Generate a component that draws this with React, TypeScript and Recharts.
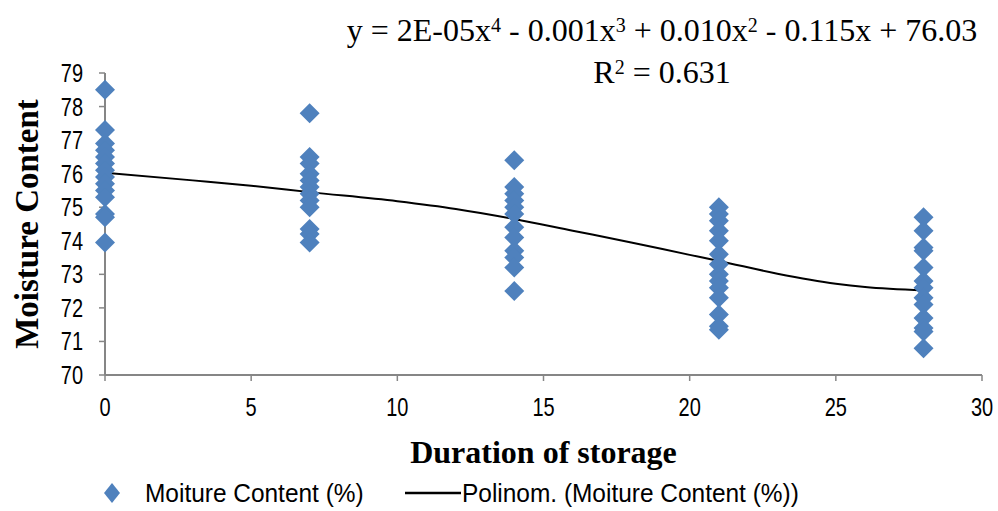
import React from "react";
import { ComposedChart, Scatter, Line, XAxis, YAxis } from "recharts";

const days = [0, 7, 14, 21, 28];
const day0 = [78.5, 77.3, 76.9, 76.7, 76.5, 76.3, 76.1, 75.9, 75.7, 75.5, 75.3, 74.8, 74.7, 73.95];
const day7 = [77.8, 76.5, 76.3, 76.0, 75.8, 75.6, 75.4, 75.2, 75.0, 74.35, 74.2, 73.95];
const day14 = [76.4, 75.6, 75.4, 75.2, 75.0, 74.8, 74.4, 74.1, 73.7, 73.5, 73.2, 72.5];
const day21 = [75.0, 74.8, 74.6, 74.3, 74.0, 73.6, 73.3, 73.0, 72.8, 72.6, 72.3, 71.8, 71.45, 71.35];
const day28 = [74.7, 74.3, 73.8, 73.7, 73.2, 72.8, 72.6, 72.3, 72.1, 71.7, 71.4, 71.3, 70.8];

const trendX = [0, 3, 5, 7, 10, 12, 14, 16, 18, 20, 21, 23, 25, 26, 28];
const trendY = [76.03, 75.8, 75.64, 75.45, 75.18, 74.95, 74.65, 74.3, 73.95, 73.58, 73.4, 73.02, 72.72, 72.62, 72.52];

const xTicks = [0, 5, 10, 15, 20, 25, 30];
const yTicks = [70, 71, 72, 73, 74, 75, 76, 77, 78, 79];

const groups = [day0, day7, day14, day21, day28];
const scatterData = groups.flatMap((vals, i) => vals.map((v) => ({ x: days[i], y: v })));
const trendData = trendX.map((x, i) => ({ x, t: trendY[i] }));

const BLUE = "#4F81BD";
const AXIS = "#868686";
const SANS = "'Liberation Sans', Arial, sans-serif";
const SERIF = "'Liberation Serif', 'DejaVu Serif', serif";
const SQUEEZE = 0.8;

const Diamond = (props: any) => {
  const { cx, cy } = props;
  if (cx == null || cy == null) return null;
  const r = 10;
  return (
    <polygon
      points={`${cx},${cy - r} ${cx + r},${cy} ${cx},${cy + r} ${cx - r},${cy}`}
      fill={BLUE}
    />
  );
};

const XTick = (props: any) => {
  const { x, y, payload } = props;
  return (
    <text
      transform={`translate(${x},${y + 33}) scale(${SQUEEZE},1)`}
      textAnchor="middle"
      fontFamily={SANS}
      fontSize={25}
      fill="#000"
    >
      {payload.value}
    </text>
  );
};

const YTick = (props: any) => {
  const { x, y, payload } = props;
  return (
    <text
      transform={`translate(${x - 14},${y + 9}) scale(${SQUEEZE},1)`}
      textAnchor="end"
      fontFamily={SANS}
      fontSize={25}
      fill="#000"
    >
      {payload.value}
    </text>
  );
};

const legendText: React.CSSProperties = {
  position: "absolute",
  top: 478,
  whiteSpace: "nowrap",
  fontFamily: SANS,
  fontSize: 26,
  lineHeight: "30px",
  transform: "scaleX(0.94)",
  transformOrigin: "left center",
  color: "#000",
};

const sup: React.CSSProperties = { fontSize: 20, verticalAlign: "9px" };

export default function App() {
  return (
    <div style={{ position: "absolute", left: 0, top: 0, width: 998, height: 511, background: "#fff" }}>
      <ComposedChart width={998} height={511} margin={{ top: 73, right: 16, bottom: 135, left: 104 }}>
        <XAxis
          type="number"
          dataKey="x"
          domain={[0, 30]}
          ticks={xTicks}
          axisLine={{ stroke: AXIS, strokeWidth: 2 }}
          tickLine={{ stroke: AXIS, strokeWidth: 1.5 }}
          tickSize={6}
          tick={<XTick />}
          height={1}
          label={{
            value: "Duration of storage",
            position: "bottom",
            offset: 64,
            style: { fontFamily: SERIF, fontWeight: "bold", fontSize: 32, fill: "#000" },
          }}
        />
        <YAxis
          type="number"
          dataKey="y"
          domain={[70, 79]}
          ticks={yTicks}
          axisLine={{ stroke: AXIS, strokeWidth: 2 }}
          tickLine={{ stroke: AXIS, strokeWidth: 1.5 }}
          tickSize={6}
          tick={<YTick />}
          width={1}
          label={{
            value: "Moisture Content",
            angle: -90,
            position: "left",
            offset: 78,
            style: { fontFamily: SERIF, fontWeight: "bold", fontSize: 33, fill: "#000", textAnchor: "middle" },
          }}
        />
        <Scatter data={scatterData} dataKey="y" shape={<Diamond />} isAnimationActive={false} />
        <Line
          data={trendData}
          dataKey="t"
          type="monotone"
          stroke="#000"
          strokeWidth={2}
          dot={false}
          activeDot={false}
          isAnimationActive={false}
        />
      </ComposedChart>

      <svg width={20} height={22} style={{ position: "absolute", left: 102, top: 482 }}>
        <polygon points="10,1 18,11 10,21 2,11" fill={BLUE} />
      </svg>
      <span style={{ ...legendText, left: 145 }}>Moiture Content (%)</span>
      <svg width={60} height={22} style={{ position: "absolute", left: 403, top: 482 }}>
        <line x1={2} y1={11} x2={58} y2={11} stroke="#000" strokeWidth={2.5} />
      </svg>
      <span style={{ ...legendText, left: 462 }}>Polinom. (Moiture Content (%))</span>

      <div
        style={{
          position: "absolute",
          left: 0,
          width: 1324,
          top: 7,
          textAlign: "center",
          fontFamily: SERIF,
          fontSize: 32,
          lineHeight: "37px",
          color: "#000",
          whiteSpace: "nowrap",
        }}
      >
        <div>
          y = 2E-05x<sup style={sup}>4</sup> - 0.001x<sup style={sup}>3</sup> + 0.010x<sup style={sup}>2</sup> - 0.115x + 76.03
        </div>
        <div>
          R<sup style={sup}>2</sup> = 0.631
        </div>
      </div>
    </div>
  );
}
